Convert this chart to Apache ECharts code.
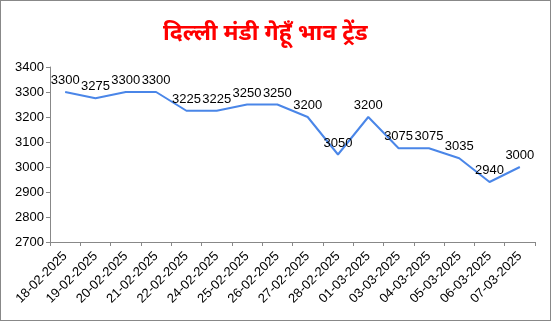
<!DOCTYPE html>
<html><head><meta charset="utf-8">
<script src="https://cdn.jsdelivr.net/npm/echarts@6/dist/echarts.min.js"></script>
<style>html,body{margin:0;padding:0;background:#fff}#c{width:551px;height:321px;box-sizing:border-box;border:1px solid #888}</style>
</head><body><div id="c"></div>
<script>
const titleText = "दिल्ली मंडी गेहूँ भाव ट्रेंड";
const categories = ["18-02-2025","19-02-2025","20-02-2025","21-02-2025","22-02-2025","24-02-2025","25-02-2025","26-02-2025","27-02-2025","28-02-2025","01-03-2025","03-03-2025","04-03-2025","05-03-2025","06-03-2025","07-03-2025"];
const prices = [3300,3275,3300,3300,3225,3225,3250,3250,3200,3050,3200,3075,3075,3035,2940,3000];
const yMin = 2700, yMax = 3400, yStep = 100;

const chart = echarts.init(document.getElementById('c'), null, {renderer:'canvas'});
chart.setOption({
  animation:false,
  backgroundColor:'#fff',
  title:{text:titleText,left:157,top:16,textStyle:{color:'#ff0000',fontSize:23,fontWeight:'bold',fontFamily:'"Noto Sans", sans-serif'}},
  grid:{left:49,right:15,top:66,bottom:78,containLabel:false},
  xAxis:{type:'category',data:categories,boundaryGap:true,
    axisLine:{lineStyle:{color:'#888'}},
    axisTick:{show:true,length:4,lineStyle:{color:'#888'}},
    axisLabel:{rotate:45,interval:0,fontSize:13,color:'#000',fontFamily:'Liberation Sans, Arial',margin:12}},
  yAxis:{type:'value',min:yMin,max:yMax,interval:yStep,
    axisLine:{show:true,lineStyle:{color:'#888'}},
    axisTick:{show:true,length:4,lineStyle:{color:'#888'}},
    splitLine:{show:false},
    axisLabel:{fontSize:13,color:'#000',fontFamily:'Liberation Sans, Arial',margin:6,formatter:v=>String(v)}},
  series:[{type:'line',data:prices,showSymbol:true,symbol:'circle',symbolSize:0,
    itemStyle:{color:'transparent',borderWidth:0},
    lineStyle:{color:'#4a86e8',width:2},
    label:{show:true,position:'top',distance:5,fontSize:13,color:'#000',fontFamily:'Liberation Sans, Arial'}}]
});
</script></body></html>
